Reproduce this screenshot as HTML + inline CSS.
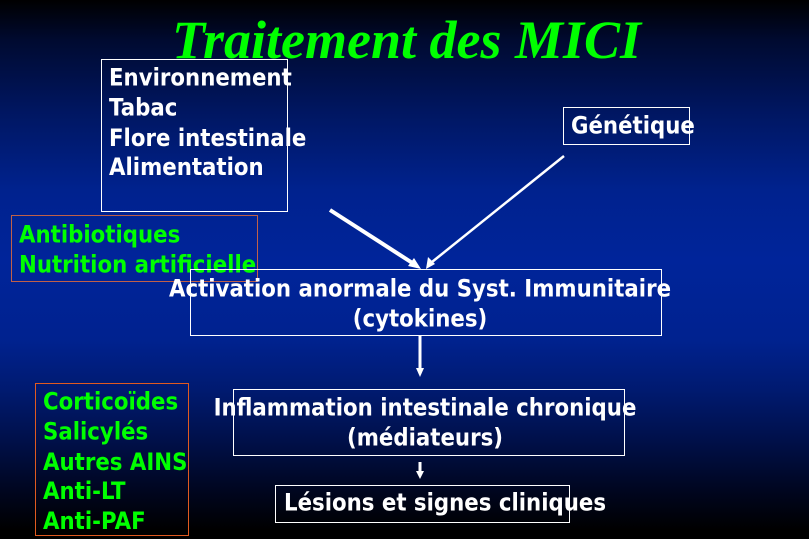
<!DOCTYPE html>
<html><head><meta charset="utf-8"><style>
body{margin:0}
#c{position:relative;width:809px;height:539px;overflow:hidden;
background:linear-gradient(to bottom,#000 0px,#000a30 40px,#001660 110px,#00228e 190px,#00249a 260px,#00228f 340px,#001a70 390px,#00104a 440px,#000620 490px,#000 530px);
font-family:"DejaVu Sans","Liberation Sans",sans-serif;font-weight:bold;font-size:21.3px;color:#fff}
.t{position:absolute;white-space:nowrap;line-height:26.8px;transform:scaleY(1.12);transform-origin:0 0}
.b{position:absolute;border:1.5px solid #fff;box-sizing:border-box}
.g{color:#00ff00}
</style></head><body><div id="c">
<div class="t" style="left:172px;top:8px;font-family:'Liberation Serif',serif;font-style:italic;font-size:54px;line-height:64px;color:#00ff00;transform:none">Traitement des MICI</div>
<div class="b" style="left:101px;top:59px;width:187px;height:153px"></div>
<div class="t" style="left:109px;top:64px">Environnement<br>Tabac<br>Flore intestinale<br>Alimentation</div>
<div class="b" style="left:563px;top:107px;width:127px;height:38px"></div>
<div class="t" style="left:571px;top:112px">Génétique</div>
<div class="b" style="left:11px;top:215px;width:247px;height:67px;border-color:#c06048;border-width:1px"></div>
<div class="t g" style="left:19px;top:221px">Antibiotiques<br>Nutrition artificielle</div>
<div class="b" style="left:190px;top:269px;width:472px;height:67px"></div>
<div class="t" style="left:150px;width:540px;text-align:center;top:275px">Activation anormale du Syst. Immunitaire<br>(cytokines)</div>
<div class="b" style="left:233px;top:389px;width:392px;height:67px"></div>
<div class="t" style="left:170px;width:510px;text-align:center;top:394px">Inflammation intestinale chronique<br>(médiateurs)</div>
<div class="b" style="left:275px;top:485px;width:295px;height:38px"></div>
<div class="t" style="left:284px;top:489px">Lésions et signes cliniques</div>
<div class="b" style="left:35px;top:383px;width:154px;height:153px;border-color:#e05a20"></div>
<div class="t g" style="left:43px;top:388px">Corticoïdes<br>Salicylés<br>Autres AINS<br>Anti-LT<br>Anti-PAF</div>
<svg width="809" height="539" style="position:absolute;left:0;top:0">
<g stroke="#fff" fill="#fff">
<line x1="330" y1="210" x2="414" y2="264" stroke-width="4"/>
<polygon points="421,269 408,266 414,258" stroke="none"/>
<line x1="564" y1="156" x2="432" y2="262" stroke-width="2.5"/>
<polygon points="426,269 428,257 435,264" stroke="none"/>
<line x1="420" y1="336" x2="420" y2="369" stroke-width="3"/>
<polygon points="416,368 424,368 420,377" stroke="none"/>
<line x1="420" y1="462" x2="420" y2="472" stroke-width="3"/>
<polygon points="416,471 424,471 420,479" stroke="none"/>
</g></svg>
</div></body></html>
